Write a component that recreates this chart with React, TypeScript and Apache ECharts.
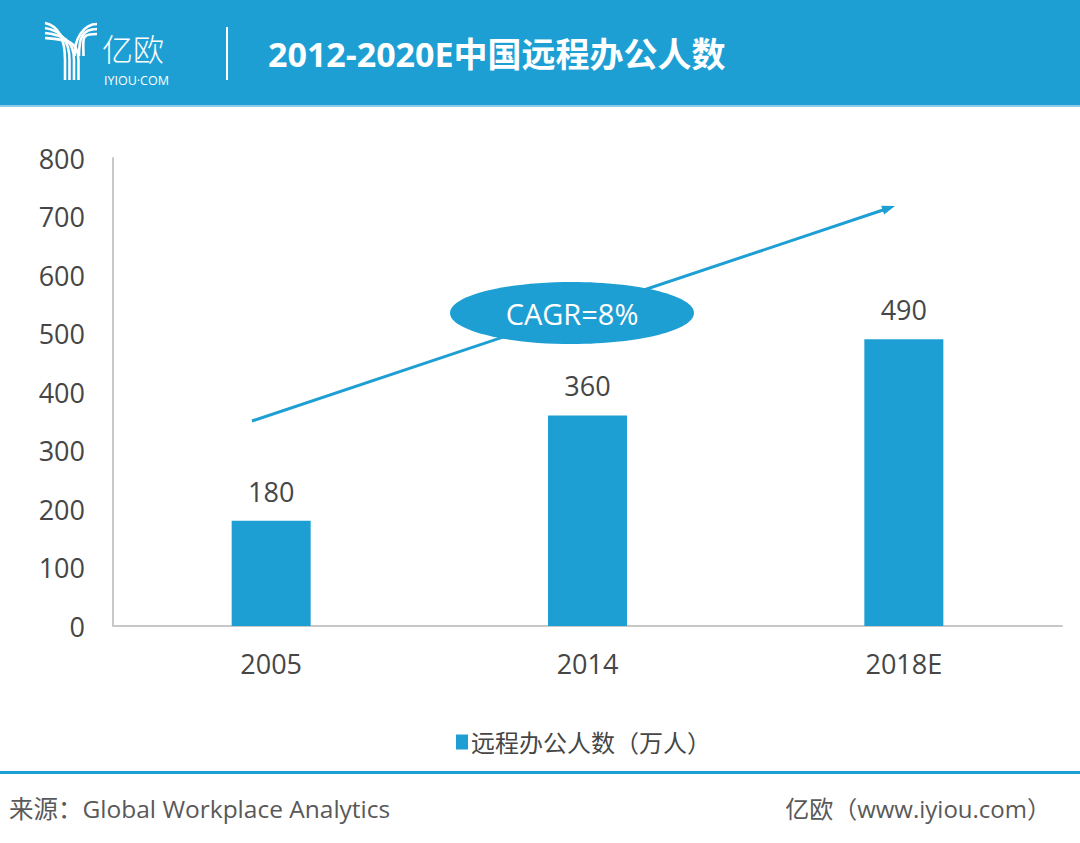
import React, { useEffect, useRef } from "react";
import * as echarts from "echarts";

const categories = ["2005", "2014", "2018E"];
const seriesName = "远程办公人数（万人）";
const values = [180, 360, 490];
const yTicks = [0, 100, 200, 300, 400, 500, 600, 700, 800];
const titleText = "2012-2020E中国远程办公人数";
const cagrText = "CAGR=8%";
const sourceText = "来源：Global Workplace Analytics";
const brandText = "亿欧（www.iyiou.com）";

const BLUE = "#1E9FD4";
const FONT = "'Open Sans', 'Noto Sans CJK SC', sans-serif";
const TEXT = "#464646";

export default function App() {
  const ref = useRef<HTMLDivElement>(null);
  useEffect(() => {
    if (!ref.current) return;
    const chart = echarts.init(ref.current, null, { renderer: "svg" });
    const white = "#ffffff";
    const logoStroke = { stroke: white, lineWidth: 2.6, fill: "none" };
    const logoCurves: any[] = [];
    // left arm arcs
    for (let i = 0; i < 4; i++) {
      logoCurves.push({
        type: "bezierCurve",
        shape: {
          x1: 45, y1: 23 + i * 5,
          cpx1: 59 + i * 2, cpy1: 26 + i * 4.5,
          x2: 65 + i * 4.5, y2: 60,
          cpx2: 65 + i * 4.5, cpy2: 40,
        },
        style: logoStroke,
        silent: true,
      });
      logoCurves.push({
        type: "line",
        shape: { x1: 65 + i * 4.5, y1: 60, x2: 65 + i * 4.5, y2: 80 },
        style: logoStroke,
        silent: true,
      });
    }
    // right arm arcs
    for (let i = 0; i < 3; i++) {
      logoCurves.push({
        type: "bezierCurve",
        shape: {
          x1: 97, y1: 24 + i * 5,
          cpx1: 84 - i * 2, cpy1: 24 + i * 5,
          x2: 74.5 + i * 4.5, y2: 56,
          cpx2: 74.5 + i * 4.5, cpy2: 38,
        },
        style: logoStroke,
        silent: true,
      });
    }

    // arrow geometry (annotation)
    const ax1 = 252, ay1 = 421, ax2 = 886, ay2 = 209;
    const tipX = 895, tipY = 206;
    const ux = 0.948, uy = -0.317, nx = 0.317, ny = 0.948;
    const bx = tipX - 13 * ux, by = tipY - 13 * uy;

    chart.setOption({
      animation: false,
      backgroundColor: "#ffffff",
      grid: { left: 113, right: 18, top: 158, bottom: 217, containLabel: false },
      legend: {
        data: [seriesName],
        left: 451,
        top: 725,
        itemWidth: 12,
        itemHeight: 15,
        itemGap: 6,
        icon: "rect",
        textStyle: { fontSize: 24, color: TEXT, fontFamily: FONT, padding: [0, 0, 0, -2] },
      },
      xAxis: {
        type: "category",
        data: categories,
        axisLine: { show: true, lineStyle: { color: "#c8c8c8", width: 2 } },
        axisTick: { show: false },
        axisLabel: { fontSize: 27, color: TEXT, margin: 24, fontFamily: FONT },
      },
      yAxis: {
        type: "value",
        min: yTicks[0],
        max: yTicks[yTicks.length - 1],
        interval: 100,
        axisLine: { show: true, lineStyle: { color: "#c8c8c8", width: 2 } },
        axisTick: { show: false },
        splitLine: { show: false },
        axisLabel: { fontSize: 27, color: TEXT, margin: 28, fontFamily: FONT },
      },
      series: [
        {
          name: seriesName,
          type: "bar",
          data: values,
          barWidth: 79,
          itemStyle: { color: BLUE },
          label: {
            show: true,
            position: "top",
            distance: 16,
            fontSize: 27,
            color: TEXT,
            fontFamily: FONT,
          },
        },
      ],
      graphic: [
        { type: "rect", shape: { x: 0, y: 0, width: 1080, height: 105 }, style: { fill: BLUE }, silent: true },
        { type: "rect", shape: { x: 0, y: 105, width: 1080, height: 2 }, style: { fill: "#8ccbe9" }, silent: true },
        ...logoCurves,
        {
          type: "text",
          x: 102, y: 47,
          style: { text: "亿欧", fill: white, fontSize: 31, fontWeight: 300, lineHeight: 28, fontFamily: "'Noto Sans CJK SC', sans-serif", verticalAlign: "middle", align: "left" },
          silent: true,
        },
        {
          type: "text",
          x: 104, y: 80,
          style: { text: "IYIOU·COM", fill: white, fontSize: 12.5, lineHeight: 12, fontFamily: FONT, verticalAlign: "middle", align: "left" },
          silent: true,
        },
        { type: "line", shape: { x1: 227, y1: 27, x2: 227, y2: 80 }, style: { stroke: white, lineWidth: 2 }, silent: true },
        {
          type: "text",
          x: 268, y: 54,
          style: { text: titleText, fill: white, fontSize: 34, fontWeight: "bold", fontFamily: "'Open Sans', 'Noto Sans CJK SC', sans-serif", verticalAlign: "middle", align: "left" },
          silent: true,
        },
        { type: "line", shape: { x1: ax1, y1: ay1, x2: ax2, y2: ay2 }, style: { stroke: BLUE, lineWidth: 3 }, silent: true },
        {
          type: "polygon",
          shape: { points: [[tipX, tipY], [bx + 4.5 * nx, by + 4.5 * ny], [bx - 4.5 * nx, by - 4.5 * ny]] },
          style: { fill: BLUE },
          silent: true,
        },
        { type: "ellipse", shape: { cx: 572, cy: 313, rx: 122, ry: 31 }, style: { fill: BLUE }, silent: true },
        {
          type: "text",
          x: 572, y: 313,
          style: { text: cagrText, fill: white, fontSize: 29, fontFamily: FONT, align: "center", verticalAlign: "middle" },
          silent: true,
        },
        { type: "rect", shape: { x: 0, y: 771, width: 1080, height: 3 }, style: { fill: BLUE }, silent: true },
        {
          type: "text",
          x: 9, y: 808,
          style: { text: sourceText, fill: "#595959", fontSize: 24.5, fontFamily: FONT, align: "left", verticalAlign: "middle" },
          silent: true,
        },
        {
          type: "text",
          x: 1051, y: 808,
          style: { text: brandText, fill: "#595959", fontSize: 24, fontFamily: FONT, align: "right", verticalAlign: "middle" },
          silent: true,
        },
      ],
    });
    return () => chart.dispose();
  }, []);
  return (
    <div
      ref={ref}
      style={{ position: "fixed", left: 0, top: 0, width: 1080, height: 843, background: "#fff" }}
    />
  );
}
